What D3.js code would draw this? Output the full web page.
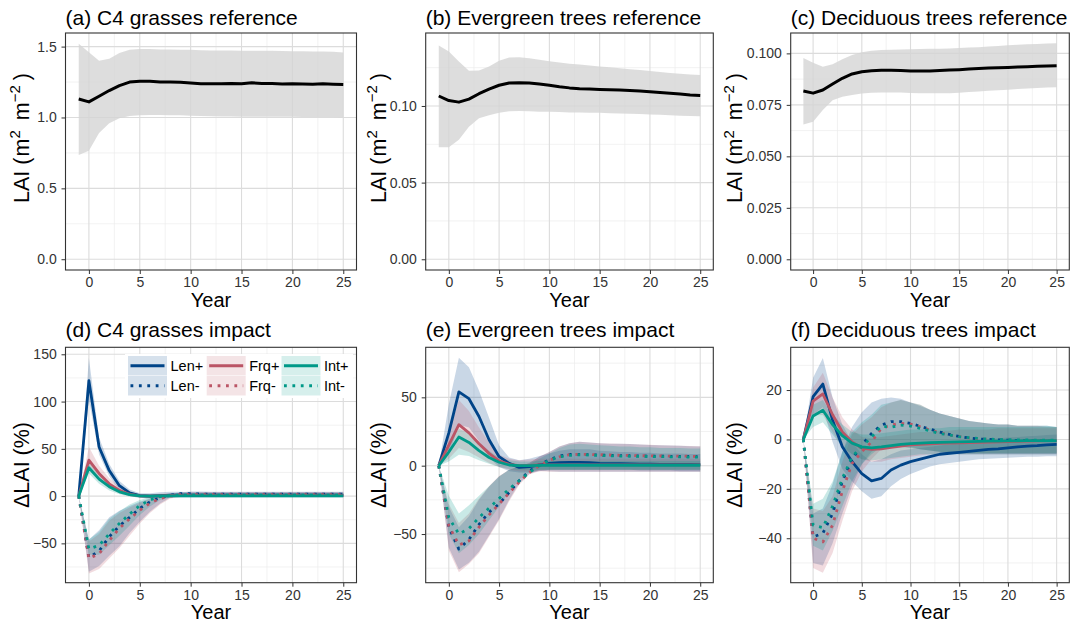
<!DOCTYPE html>
<html><head><meta charset="utf-8">
<script src="https://cdn.jsdelivr.net/npm/d3@7/dist/d3.min.js"></script>
<style>
body{margin:0;background:#fff}
svg text{font-family:"Liberation Sans",Arial,Helvetica,sans-serif}
</style></head>
<body><svg id="c" width="1072" height="624"></svg>
<script>
// ---------------- DATA ----------------
const years = [-1,0,1,2,3,4,5,6,7,8,9,10,11,12,13,14,15,16,17,18,19,20,21,22,23,24,25];
const xTicks = [0,5,10,15,20,25];
const xMinorTicks = [2.5,7.5,12.5,17.5,22.5];
const seriesNames = ["Len+","Frq+","Int+","Len-","Frq-","Int-"];

// (a) C4 grasses reference
const aMean = [1.13,1.11,1.15,1.19,1.225,1.25,1.255,1.255,1.25,1.25,1.248,1.243,1.238,1.238,1.238,1.24,1.238,1.245,1.24,1.24,1.237,1.238,1.237,1.235,1.238,1.235,1.233];
const aLo   = [0.735,0.765,0.89,0.96,0.995,1.01,1.016,1.017,1.017,1.016,1.015,1.013,1.01,1.008,1.007,1.007,1.006,1.006,1.006,1.005,1.005,1.005,1.004,1.004,1.003,1.003,1.002];
const aHi   = [1.52,1.46,1.40,1.415,1.455,1.478,1.484,1.484,1.48,1.479,1.478,1.477,1.474,1.473,1.472,1.472,1.471,1.471,1.47,1.47,1.469,1.468,1.467,1.466,1.466,1.463,1.458];
// (b) Evergreen trees reference
const bMean = [0.1065,0.1035,0.1025,0.1045,0.108,0.111,0.1135,0.115,0.1152,0.115,0.1143,0.1135,0.1125,0.1118,0.1113,0.111,0.1108,0.1106,0.1104,0.1101,0.1097,0.1092,0.1088,0.1083,0.1078,0.1072,0.1068];
const bLo   = [0.073,0.073,0.078,0.0865,0.092,0.094,0.0955,0.0965,0.0967,0.0965,0.0963,0.0962,0.096,0.0958,0.0957,0.0956,0.0955,0.0953,0.0951,0.0949,0.0947,0.0945,0.0942,0.094,0.0937,0.0935,0.0933];
const bHi   = [0.1395,0.1355,0.129,0.123,0.1232,0.1258,0.1295,0.1317,0.1318,0.1312,0.1302,0.1292,0.1284,0.1276,0.127,0.1264,0.1258,0.1252,0.1246,0.124,0.1234,0.1228,0.1222,0.1215,0.121,0.1205,0.1202];
// (c) Deciduous trees reference
const cMean = [0.0817,0.0807,0.0822,0.0851,0.0879,0.09,0.0911,0.0916,0.0918,0.0918,0.0917,0.0915,0.0914,0.0915,0.0917,0.0919,0.0921,0.0924,0.0927,0.0929,0.093,0.0932,0.0934,0.0935,0.0937,0.0939,0.094];
const cLo   = [0.0655,0.0668,0.0725,0.0773,0.079,0.0798,0.0805,0.0809,0.081,0.081,0.081,0.0808,0.0807,0.0806,0.0806,0.0807,0.0809,0.0812,0.0815,0.0818,0.0821,0.0824,0.0827,0.083,0.0832,0.0834,0.0836];
const cHi   = [0.0978,0.0955,0.0935,0.0947,0.0971,0.0992,0.1006,0.1013,0.1016,0.1018,0.1019,0.102,0.1021,0.1022,0.1023,0.1024,0.1026,0.1028,0.103,0.1033,0.1036,0.1039,0.1042,0.1044,0.1046,0.1048,0.1049];

// (d) C4 grasses impact (%)
const dLenP   = [0,122,52,27,11,3.5,0.5,0,0.5,1,1,1,1,1,1,1,1,1,1,1,1,1,1,1,1,1,1];
const dLenPLo = [0,102,44,21,6,0,-2,-2.5,-2,-1.5,-1.5,-1.5,-1.5,-1.5,-1.5,-1.5,-1.5,-1.5,-1.5,-1.5,-1.5,-1.5,-1.5,-1.5,-1.5,-1.5,-1.5];
const dLenPHi = [0,146,62,34,16,7,3,3,4,4.5,4.5,4,4,4,4,4,4,4,4,4,4,4,4,4,4,4,4];
const dFrqP   = [0,38,24,13,6,2,0.3,0,0.3,0.5,0.5,0.5,0.5,0.5,0.5,0.5,0.5,0.5,0.5,0.5,0.5,0.5,0.5,0.5,0.5,0.5,0.5];
const dFrqPLo = [0,29,17,8,3,0,-1.5,-2,-1.5,-1,-1,-1,-1,-1,-1,-1,-1,-1,-1,-1,-1,-1,-1,-1,-1,-1,-1];
const dFrqPHi = [0,52,32,19,10,4.5,2,2,2.5,3,3,3,3,3,3,3,3,3,3,3,3,3,3,3,3,3,3];
const dIntP   = [0,30,18,10,4.5,1.5,0.2,0,0.2,0.3,0.3,0.3,0.3,0.3,0.3,0.3,0.3,0.3,0.3,0.3,0.3,0.3,0.3,0.3,0.3,0.3,0.3];
const dIntPLo = [0,24,13,6,2,-0.5,-1.5,-2,-1.5,-1,-1,-1,-1,-1,-1,-1,-1,-1,-1,-1,-1,-1,-1,-1,-1,-1,-1];
const dIntPHi = [0,36,23,14,7,3.5,2,2,2,2.5,2.5,2.5,2.5,2.5,2.5,2.5,2.5,2.5,2.5,2.5,2.5,2.5,2.5,2.5,2.5,2.5,2.5];
const dLenM   = [0,-65,-58,-43,-31.5,-22.5,-13,-6,-1.5,1,2.5,2.5,2.2,2,2,2,2,2,2,2,2,2,2,2,2,2,2];
const dLenMLo = [0,-80,-74,-63,-53,-39,-27,-16.5,-7.7,-1.5,-0.5,-0.5,-0.5,-0.5,-0.5,-0.5,-0.5,-0.5,-0.5,-0.5,-0.5,-0.5,-0.5,-0.5,-0.5,-0.5,-0.5];
const dLenMHi = [0,-46,-36,-22.5,-15.5,-10.6,-6,-2.5,0,2.5,4,5,5,4.5,4.5,4.5,4.5,4.5,4.5,4.5,4.5,4.5,4.5,4.5,4.5,4.5,4.5];
const dFrqM   = [0,-66,-61,-47,-34,-24,-15,-7.5,-2.5,0,1.5,1.5,1.5,1.5,1.5,1.5,1.5,1.5,1.5,1.5,1.5,1.5,1.5,1.5,1.5,1.5,1.5];
const dFrqMLo = [0,-82,-77,-66,-55,-42,-29,-18,-9,-2.5,-1,-1,-1,-1,-1,-1,-1,-1,-1,-1,-1,-1,-1,-1,-1,-1,-1];
const dFrqMHi = [0,-48,-40,-26,-18,-12,-7,-3,0,2.5,3.5,4,4,4,4,4,4,4,4,4,4,4,4,4,4,4,4];
const dIntM   = [0,-56,-52,-40,-29,-19,-10,-4,-0.5,0.5,1,1,1,1,1,1,1,1,1,1,1,1,1,1,1,1,1];
const dIntMLo = [0,-62,-62,-52,-42,-31,-20,-11,-4,-1.5,-1,-1,-1,-1,-1,-1,-1,-1,-1,-1,-1,-1,-1,-1,-1,-1,-1];
const dIntMHi = [0,-46,-38,-24,-16,-9,-4,-1,1,2,3,3,3,3,3,3,3,3,3,3,3,3,3,3,3,3,3];

// (e) Evergreen trees impact (%)
const eLenP   = [0,24,54,49,36,19,6.6,1.7,-1.2,-0.7,0.5,1.7,2.2,2.4,2.4,2.2,1.7,1.5,1.4,1.3,1.2,1.1,1,1,0.9,0.9,0.8];
const eLenPLo = [0,8,30,28,18,6,-1,-4,-5,-5,-4,-3,-3,-3,-3,-3,-3,-3,-3,-3,-3.5,-3.5,-3.5,-3.5,-4,-4,-4];
const eLenPHi = [0,45,79,72,55,35,15,6,4,5,7,9,11,12,12,12,11,10.5,10,10,9.5,9.5,9,9,9,8.5,8.5];
const eFrqP   = [0,15,30,24,16,9,3.5,1,0,0.2,0.5,0.6,0.6,0.6,0.6,0.6,0.6,0.6,0.6,0.6,0.6,0.6,0.6,0.6,0.6,0.6,0.6];
const eFrqPLo = [0,5,13,10,6,2,-1,-3,-4,-4,-3.5,-3,-3,-3,-3,-3,-3,-3,-3,-3,-3,-3,-3,-3,-3,-3,-3];
const eFrqPHi = [0,25,48,40,28,17,8,5,4,4.5,5,5,5,5,5,5,5,5,5,5,5,5,5,5,5,5,5];
const eIntP   = [0,10,21,17,11,6,2.5,0.5,0,0,0.2,0.3,0.3,0.3,0.3,0.3,0.3,0.3,0.3,0.3,0.3,0.3,0.3,0.3,0.3,0.3,0.3];
const eIntPLo = [0,3,8,7,4,1.5,-1,-2.5,-3,-3,-3,-3,-3,-3,-3,-3,-3,-3,-3,-3,-3,-3,-3,-3,-3,-3,-3];
const eIntPHi = [0,17,27,24,17,11,6,4,3,3,3.5,3.5,3.5,3.5,3.5,3.5,3.5,3.5,3.5,3.5,3.5,3.5,3.5,3.5,3.5,3.5,3.5];
const eLenM   = [0,-45,-61,-54,-43,-34,-28,-19.5,-11,-4,0.5,4.5,7,8.3,8.3,8,7.8,7.6,7.4,7.3,7.2,7,7,6.8,6.8,6.7,6.6];
const eLenMLo = [0,-60,-76,-71,-63,-51,-39,-25,-13,-6,-3.5,-4,-4.5,-4.5,-4.5,-4.5,-4.5,-4.5,-4.5,-4.5,-4.5,-4.5,-4.5,-4.5,-4.5,-4.5,-4.5];
const eLenMHi = [0,-30,-45,-37,-25,-15.5,-8,-3,-1,2,6.5,10,14,16.4,17.5,17,16.4,16,16,15.8,15.5,15.2,15,14.8,14.5,14.2,14];
const eFrqM   = [0,-44,-58,-55,-45,-36,-28,-20,-12,-5,0,4,6.5,8,8.3,8.2,8,7.8,7.6,7.5,7.3,7.2,7.1,7,7,6.9,6.8];
const eFrqMLo = [0,-62,-78,-72,-64,-52,-40,-26,-14,-6.5,-4,-4.5,-4.5,-4.5,-4.5,-4.5,-4.5,-4.5,-4.5,-4.5,-4.5,-4.5,-4.5,-4.5,-4.5,-4.5,-4.5];
const eFrqMHi = [0,-28,-42,-35,-24,-15,-7.5,-3,-0.5,2,6.5,10,14,16.5,17.5,17,16.5,16.3,16,15.8,15.5,15.3,15,14.8,14.6,14.4,14.2];
const eIntM   = [0,-38,-50,-46,-38,-31,-24,-17,-11,-5,0,4,6.5,7.5,8,7.8,7.5,7.2,7,6.9,6.8,6.7,6.6,6.5,6.4,6.3,6.2];
const eIntMLo = [0,-50,-64,-58,-50,-40,-30,-19,-10,-5,-3,-3,-3,-3,-3,-3,-3,-3,-3,-3,-3,-3,-3,-3,-3,-3,-3];
const eIntMHi = [0,-22,-35,-29,-22,-15,-8,-3,-1,1,5,9,13,15.5,16,15.5,15,14.5,14,14,13.5,13.5,13,13,13,12.5,12.5];

// (f) Deciduous trees impact (%)
const fLenP   = [0,17.3,22.4,7.8,-3,-9,-13.8,-16.8,-15.8,-12.4,-10.4,-9,-8,-7,-6,-5.6,-5.2,-4.8,-4.4,-4,-3.8,-3.4,-3,-2.7,-2.5,-2.2,-2];
const fLenPLo = [0,10,13,-1,-12,-17,-21,-24,-23,-19,-16,-14,-12.5,-11,-10,-9.5,-9,-8.5,-8,-7.8,-7.6,-7.4,-7.2,-7,-7,-6.8,-6.8];
const fLenPHi = [0,25,33,17,6,-1,-6,-9,-8,-6,-4.5,-4,-3.5,-3,-2.5,-2,-1.5,-1,-0.5,0,0.5,0.8,1,1.3,1.5,1.8,2];
const fFrqP   = [0,15.5,18.4,10,3,-1,-3.5,-4,-3.8,-3.2,-2.7,-2.2,-2,-1.8,-1.6,-1.5,-1.4,-1.3,-1.2,-1.1,-1,-0.9,-0.8,-0.7,-0.6,-0.5,-0.5];
const fFrqPLo = [0,10,10,3,-3,-6,-8,-9,-9,-8,-7.5,-7,-6.5,-6,-6,-5.5,-5.5,-5.5,-5.5,-5.5,-5.5,-5.5,-5.5,-5.5,-5.5,-5.5,-5.5];
const fFrqPHi = [0,21,27,17,9,4,1,0.5,1,1.5,2,2.5,3,3,3.5,3.5,4,4,4,4,4.5,4.5,4.5,4.5,4.5,4.5,4.5];
const fIntP   = [0,9.5,11.8,6,1.5,-1.5,-3,-3.4,-3,-2.5,-2,-1.7,-1.5,-1.3,-1.2,-1.1,-1,-0.9,-0.8,-0.7,-0.7,-0.6,-0.6,-0.5,-0.5,-0.5,-0.5];
const fIntPLo = [0,5,7,2,-3,-6,-8,-8.5,-8,-7.5,-7,-6.5,-6,-6,-6,-6,-6,-6,-6,-6,-6,-6,-6,-6,-6,-6,-6];
const fIntPHi = [0,14,16,10,6,3,2,2,2.5,3,3.5,4,4,4.5,4.5,5,5,5,5,5,5,5,5,5,5,5,5];
const fLenM   = [0,-39.5,-38,-30,-17,-8,-2.3,2.4,5.8,7.2,7.2,6.5,5.3,4.2,3,2,1.2,0.6,0.2,0,-0.2,-0.3,-0.4,-0.5,-0.5,-0.5,-0.5];
const fLenMLo = [0,-50,-51,-42,-30,-19,-10,-5,-3,-2,-2.5,-3,-4,-4.5,-5,-5.5,-6,-6,-6,-6,-6,-6,-6,-6,-6,-6,-6];
const fLenMHi = [0,-30,-28,-18,-5,5,11,15,16.5,17,16.5,15,13.5,12,10.5,9.5,8.5,7.5,7,6.5,6,6,5.5,5.5,5.5,5.5,5];
const fFrqM   = [0,-40,-41.5,-34.7,-21,-9.7,-5,-1,4.5,5.8,6.5,6.2,5.1,3.8,2.7,1.8,1.1,0.6,0.2,0,-0.2,-0.3,-0.4,-0.4,-0.5,-0.5,-0.5];
const fFrqMLo = [0,-52,-54,-46,-33,-21,-13,-8,-4,-3,-3,-3.5,-4,-4.5,-5,-5.5,-6,-6,-6,-6,-6,-6,-6,-6,-6,-6,-6];
const fFrqMHi = [0,-28,-29,-23,-9,2,6,9,13,15,16,15,14,12,10.5,9.5,8.5,7.5,7,6.5,6,6,5.5,5.5,5.5,5,5];
const fIntM   = [0,-34.7,-35.7,-27,-15.8,-7,-3,1,5.4,4.9,5.8,5.4,4.5,3.5,2.4,1.8,1.1,0.7,0.4,0.1,0,-0.1,-0.2,-0.2,-0.3,-0.3,-0.3];
const fIntMLo = [0,-43,-45,-37,-27,-17,-10,-6,-3,-3,-3,-3.5,-4,-4.5,-5,-5.5,-5.5,-5.5,-5.5,-5.5,-5.5,-5.5,-5.5,-5.5,-5.5,-5.5,-5.5];
const fIntMHi = [0,-26,-24,-17,-5,3,7,10,14,15,16,15,14,12,10.5,9.5,8.5,7.5,7,6.5,6,6,5.5,5.5,5.5,5.5,5];

// ---------------- STYLE / LAYOUT ----------------
const colors = {"Len":"#004488","Frq":"#BB5566","Int":"#009988"};
const svg = d3.select("#c");
const xDomain = [-2.3, 26.3];
const cols = [{x0:65.5,x1:356.5,ytx:28.5},{x0:425.7,x1:713.3,ytx:385.5},{x0:790.7,x1:1069.3,ytx:742}];
const rows = [{y0:33,y1:270,titleY:24.5},{y0:347.3,y1:582.7,titleY:336.7}];
const RIB_ALPHA = 0.21;

function build(mean, lo, hi){ return years.map((yr,i)=>({x:yr, m:mean[i], lo:lo[i], hi:hi[i]})); }

const panels = [
 {col:0,row:0,title:"(a) C4 grasses reference", yDom:[-0.076,1.596], yTicks:[0,0.5,1.0,1.5], yMinor:[0.25,0.75,1.25], fmt:d3.format(".1f"), type:"ref", data:build(aMean,aLo,aHi)},
 {col:1,row:0,title:"(b) Evergreen trees reference", yDom:[-0.007,0.1476], yTicks:[0,0.05,0.10], yMinor:[0.025,0.075,0.125], fmt:d3.format(".2f"), type:"ref", data:build(bMean,bLo,bHi)},
 {col:2,row:0,title:"(c) Deciduous trees reference", yDom:[-0.0052,0.1099], yTicks:[0,0.025,0.05,0.075,0.1], yMinor:[0.0125,0.0375,0.0625,0.0875], fmt:d3.format(".3f"), type:"ref", data:build(cMean,cLo,cHi)},
 {col:0,row:1,title:"(d) C4 grasses impact", yDom:[-91.6,157.4], yTicks:[-50,0,50,100,150], yMinor:[-75,-25,25,75,125], fmt:d3.format("d"), type:"imp", legend:true,
  series:[build(dLenP,dLenPLo,dLenPHi),build(dFrqP,dFrqPLo,dFrqPHi),build(dIntP,dIntPLo,dIntPHi),build(dLenM,dLenMLo,dLenMHi),build(dFrqM,dFrqMLo,dFrqMHi),build(dIntM,dIntMLo,dIntMHi)]},
 {col:1,row:1,title:"(e) Evergreen trees impact", yDom:[-85.6,86.6], yTicks:[-50,0,50], yMinor:[-75,-25,25,75], fmt:d3.format("d"), type:"imp",
  series:[build(eLenP,eLenPLo,eLenPHi),build(eFrqP,eFrqPLo,eFrqPHi),build(eIntP,eIntPLo,eIntPHi),build(eLenM,eLenMLo,eLenMHi),build(eFrqM,eFrqMLo,eFrqMHi),build(eIntM,eIntMLo,eIntMHi)]},
 {col:2,row:1,title:"(f) Deciduous trees impact", yDom:[-58,37.3], yTicks:[-40,-20,0,20], yMinor:[-50,-30,-10,10,30], fmt:d3.format("d"), type:"imp",
  series:[build(fLenP,fLenPLo,fLenPHi),build(fFrqP,fFrqPLo,fFrqPHi),build(fIntP,fIntPLo,fIntPHi),build(fLenM,fLenMLo,fLenMHi),build(fFrqM,fFrqMLo,fFrqMHi),build(fIntM,fIntMLo,fIntMHi)]}
];

panels.forEach((p,pi)=>{
  const C = cols[p.col], R = rows[p.row];
  const x = d3.scaleLinear().domain(xDomain).range([C.x0, C.x1]);
  const y = d3.scaleLinear().domain(p.yDom).range([R.y1, R.y0]);
  const g = svg.append("g");
  const cid = "clip"+pi;
  g.append("clipPath").attr("id",cid).append("rect").attr("x",C.x0).attr("y",R.y0).attr("width",C.x1-C.x0).attr("height",R.y1-R.y0);

  // grid
  const grid = g.append("g");
  grid.selectAll(".vmi").data(xMinorTicks).join("line").attr("x1",d=>x(d)).attr("x2",d=>x(d)).attr("y1",R.y0).attr("y2",R.y1).attr("stroke","#ededed").attr("stroke-width",0.7);
  grid.selectAll(".hmi").data(p.yMinor).join("line").attr("y1",d=>y(d)).attr("y2",d=>y(d)).attr("x1",C.x0).attr("x2",C.x1).attr("stroke","#ededed").attr("stroke-width",0.7);
  grid.selectAll(".vma").data(xTicks).join("line").attr("x1",d=>x(d)).attr("x2",d=>x(d)).attr("y1",R.y0).attr("y2",R.y1).attr("stroke","#dcdcdc").attr("stroke-width",1.1);
  grid.selectAll(".hma").data(p.yTicks).join("line").attr("y1",d=>y(d)).attr("y2",d=>y(d)).attr("x1",C.x0).attr("x2",C.x1).attr("stroke","#dcdcdc").attr("stroke-width",1.1);

  const plot = g.append("g").attr("clip-path",`url(#${cid})`);
  const area = d3.area().x(d=>x(d.x)).y0(d=>y(d.lo)).y1(d=>y(d.hi));
  const line = d3.line().x(d=>x(d.x)).y(d=>y(d.m));

  if(p.type==="ref"){
    plot.append("path").datum(p.data).attr("d",area).attr("fill","#d4d4d4").attr("fill-opacity",0.8);
    plot.append("path").datum(p.data).attr("d",line).attr("fill","none").attr("stroke","#000").attr("stroke-width",3).attr("stroke-linejoin","round");
  } else {
    const order = [0,3,1,4,2,5];
    order.forEach(i=>{
      const col = colors[seriesNames[i].slice(0,3)];
      plot.append("path").datum(p.series[i]).attr("d",area).attr("fill",col).attr("fill-opacity",RIB_ALPHA);
    });
    order.forEach(i=>{
      const col = colors[seriesNames[i].slice(0,3)];
      const dotted = seriesNames[i].endsWith("-");
      plot.append("path").datum(p.series[i]).attr("d",line).attr("fill","none").attr("stroke",col)
        .attr("stroke-width",2.8).attr("stroke-dasharray",dotted?"2.8,5.6":null).attr("stroke-linejoin","round");
    });
  }

  // border
  g.append("rect").attr("x",C.x0).attr("y",R.y0).attr("width",C.x1-C.x0).attr("height",R.y1-R.y0).attr("fill","none").attr("stroke","#333").attr("stroke-width",1.1);

  // axes
  const ax = g.append("g").attr("transform",`translate(0,${R.y1})`).call(d3.axisBottom(x).tickValues(xTicks).tickSize(4).tickPadding(3.4).tickFormat(d3.format("d")));
  const ay = g.append("g").attr("transform",`translate(${C.x0},0)`).call(d3.axisLeft(y).tickValues(p.yTicks).tickSize(4).tickPadding(4.8).tickFormat(p.fmt));
  [ax,ay].forEach(a=>{
    a.select(".domain").remove();
    a.selectAll("line").attr("stroke","#333").attr("stroke-width",1);
    a.selectAll("text").attr("fill","#333").style("font-size","14px").style("font-family",'"Liberation Sans",Arial,sans-serif');
  });

  // title
  g.append("text").attr("x",C.x0).attr("y",R.titleY).attr("fill","#000").style("font-size","21px").text(p.title);
  // x title
  g.append("text").attr("x",(C.x0+C.x1)/2).attr("y",R.y1+36.5).attr("text-anchor","middle").attr("fill","#000").style("font-size","20px").text("Year");
  // y title
  if(p.type==="ref"){
    const t = g.append("text").attr("transform",`translate(${C.ytx},138) rotate(-90)`).attr("text-anchor","middle").attr("fill","#000").style("font-size","21.5px");
    t.append("tspan").text("LAI");
    t.append("tspan").attr("dx",6).text("(");
    t.append("tspan").attr("dx",1).text("m");
    t.append("tspan").attr("dy",-8.5).style("font-size","15px").text("2");
    t.append("tspan").attr("dy",8.5).attr("dx",10).text("m");
    t.append("tspan").attr("dy",-8.5).style("font-size","15px").text("−2");
    t.append("tspan").attr("dy",8.5).attr("dx",5).text(")");
  } else {
    g.append("text").attr("transform",`translate(${C.ytx},${(R.y0+R.y1)/2}) rotate(-90)`).attr("text-anchor","middle").attr("fill","#000").style("font-size","21.5px").text("ΔLAI (%)");
  }

  // legend
  if(p.legend){
    const lg = g.append("g");
    const colX = [128, 206.7, 281.5], rowY = [356, 376];
    const kw = 39, kh = 19.5;
    lg.append("rect").attr("x",125).attr("y",354).attr("width",228).attr("height",44).attr("fill","#fff");
    seriesNames.forEach((nm,i)=>{
      const ci = i%3, ri = Math.floor(i/3);
      const col = colors[nm.slice(0,3)];
      const dotted = nm.endsWith("-");
      const kx = colX[ci], ky = rowY[ri];
      lg.append("rect").attr("x",kx).attr("y",ky).attr("width",kw).attr("height",kh).attr("fill",col).attr("fill-opacity",0.16);
      lg.append("line").attr("x1",kx+2.5).attr("x2",kx+kw-2.5).attr("y1",ky+kh/2).attr("y2",ky+kh/2).attr("stroke",col)
        .attr("stroke-width",2.8).attr("stroke-dasharray",dotted?"2.8,5.6":null);
      lg.append("text").attr("x",kx+kw+3.5).attr("y",ky+kh/2).attr("dy","0.35em").attr("fill","#000").style("font-size","14.5px").text(nm);
    });
  }
});
</script>
</body></html>
